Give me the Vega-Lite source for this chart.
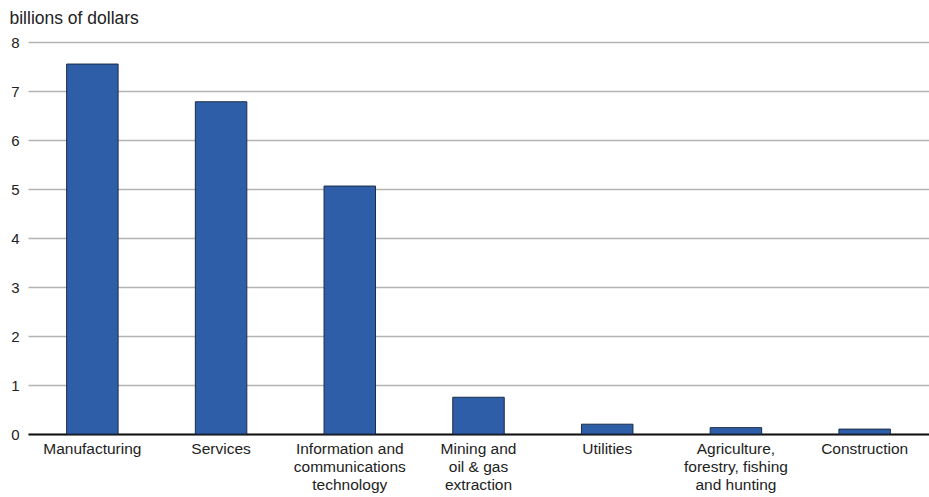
{
  "$schema": "https://vega.github.io/schema/vega-lite/v6.json",
  "width": 901,
  "height": 392,
  "autosize": {"type": "none"},
  "padding": {"left": 28, "top": 42, "right": 0, "bottom": 63},
  "background": "white",
  "config": {
    "view": {"stroke": null},
    "font": "Liberation Sans",
    "axis": {"labelFont": "Liberation Sans", "titleFont": "Liberation Sans", "labelColor": "#222222", "titleColor": "#222222"}
  },
  "data": {
    "values": [
      {"sector": "Manufacturing", "value": 7.55},
      {"sector": "Services", "value": 6.78},
      {"sector": "Information and communications technology", "value": 5.06},
      {"sector": "Mining and oil & gas extraction", "value": 0.75},
      {"sector": "Utilities", "value": 0.2},
      {"sector": "Agriculture, forestry, fishing and hunting", "value": 0.13},
      {"sector": "Construction", "value": 0.1}
    ]
  },
  "mark": {"type": "bar", "color": "#2e5ea8", "stroke": "#1c2b48", "strokeWidth": 1},
  "encoding": {
    "x": {
      "field": "sector",
      "type": "nominal",
      "sort": null,
      "scale": {"paddingInner": 0.6, "paddingOuter": 0.3},
      "axis": {
        "title": null,
        "labelAngle": 0,
        "labelFontSize": 15.5,
        "labelPadding": 7,
        "ticks": false,
        "domainColor": "#111111",
        "domainWidth": 2,
        "labelLineHeight": 18,
        "labelBaseline": "top",
        "labelLimit": 200,
        "labelExpr": "datum.value == 'Information and communications technology' ? ['Information and', 'communications', 'technology'] : datum.value == 'Mining and oil & gas extraction' ? ['Mining and', 'oil & gas', 'extraction'] : datum.value == 'Agriculture, forestry, fishing and hunting' ? ['Agriculture,', 'forestry, fishing', 'and hunting'] : datum.value"
      }
    },
    "y": {
      "field": "value",
      "type": "quantitative",
      "scale": {"domain": [0, 8], "nice": false},
      "axis": {
        "title": "billions of dollars",
        "titleAngle": 0,
        "titleAlign": "left",
        "titleBaseline": "alphabetic",
        "titleX": -19,
        "titleY": -19,
        "titleFontSize": 17.5,
        "titleFontWeight": "normal",
        "values": [0, 1, 2, 3, 4, 5, 6, 7, 8],
        "labelFontSize": 15,
        "labelPadding": 9,
        "ticks": false,
        "domain": false,
        "gridColor": "#b3b3b3",
        "gridWidth": 1.5
      }
    }
  }
}
